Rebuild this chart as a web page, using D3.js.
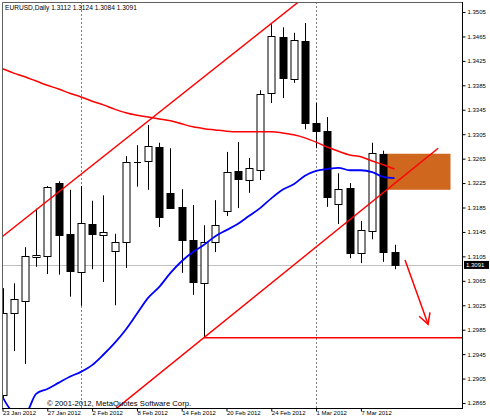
<!DOCTYPE html>
<html><head><meta charset="utf-8">
<script src="https://cdn.jsdelivr.net/npm/d3@7"></script>
<style>
body{margin:0;background:#fff}
svg{display:block}
text{font-family:"Liberation Sans",Arial,sans-serif}
</style>
</head><body>
<svg id="c" width="490" height="420"></svg>
<script>
const symbolTitle = "EURUSD,Daily";
const dates = ["23 Jan 2012","24 Jan 2012","25 Jan 2012","26 Jan 2012","27 Jan 2012","30 Jan 2012","31 Jan 2012",
 "1 Feb 2012","2 Feb 2012","3 Feb 2012","6 Feb 2012","7 Feb 2012","8 Feb 2012","9 Feb 2012","10 Feb 2012",
 "13 Feb 2012","14 Feb 2012","15 Feb 2012","16 Feb 2012","17 Feb 2012","20 Feb 2012","21 Feb 2012","22 Feb 2012",
 "23 Feb 2012","24 Feb 2012","27 Feb 2012","28 Feb 2012","29 Feb 2012","1 Mar 2012","2 Mar 2012","5 Mar 2012",
 "6 Mar 2012","7 Mar 2012","8 Mar 2012","9 Mar 2012","12 Mar 2012"];
const opens  = [1.2878,1.3012,1.3032,1.3104,1.3106,1.3225,1.3142,1.3079,1.3158,1.3140,1.3114,1.3129,1.3260,1.3261,1.3284,1.3209,1.3186,1.3132,1.3061,1.3129,1.3179,1.3245,1.3230,1.3246,1.3372,1.3464,1.3395,1.3458,1.3323,1.3310,1.3191,1.3217,1.3110,1.3146,1.3273,1.3112];
const highs  = [1.3053,1.3061,1.3120,1.3183,1.3220,1.3228,1.3214,1.3220,1.3196,1.3205,1.3142,1.3269,1.3287,1.3320,1.3291,1.3282,1.3215,1.3189,1.3156,1.3197,1.3276,1.3292,1.3266,1.3377,1.3485,1.3480,1.3471,1.3487,1.3356,1.3333,1.3241,1.3225,1.3163,1.3291,1.3278,1.3124];
const lows   = [1.2873,1.2950,1.2929,1.3088,1.3076,1.3075,1.3039,1.3024,1.3084,1.3063,1.3025,1.3086,1.3219,1.3214,1.3153,1.3183,1.3078,1.3042,1.2972,1.3112,1.3171,1.3184,1.3209,1.3230,1.3356,1.3364,1.3389,1.3313,1.3282,1.3186,1.3158,1.3102,1.3094,1.3133,1.3096,1.3084];
const closes = [1.3012,1.3035,1.3106,1.3107,1.3219,1.3140,1.3081,1.3160,1.3142,1.3145,1.3129,1.3259,1.3260,1.3286,1.3169,1.3184,1.3132,1.3063,1.3129,1.3156,1.3243,1.3232,1.3250,1.3371,1.3466,1.3397,1.3459,1.3323,1.3310,1.3202,1.3215,1.3110,1.3148,1.3274,1.3112,1.3091];
const maRed  = [1.3412,1.3405,1.3399,1.3392,1.3385,1.3379,1.3372,1.3366,1.3359,1.3353,1.3346,1.3340,1.3336,1.3333,1.3330,1.3327,1.3322,1.3317,1.3314,1.3312,1.3310,1.3309,1.3309,1.3309,1.3309,1.3307,1.3304,1.3299,1.3292,1.3284,1.3277,1.3271,1.3268,1.3261,1.3255,1.3248];
const maBlue = [1.2875,1.2850,1.2847,1.2880,1.2888,1.2898,1.2908,1.2916,1.2927,1.2944,1.2963,1.2985,1.3011,1.3037,1.3055,1.3078,1.3097,1.3112,1.3124,1.3138,1.3148,1.3158,1.3171,1.3184,1.3200,1.3214,1.3223,1.3237,1.3245,1.3248,1.3250,1.3246,1.3246,1.3243,1.3235,1.3233];
const yTicks = [1.3505,1.3465,1.3425,1.3385,1.3345,1.3305,1.3265,1.3225,1.3185,1.3145,1.3105,1.3065,1.3025,1.2985,1.2945,1.2905,1.2865];
const xTickIdx = [0,4,8,12,16,20,24,28,32];
const separatorIdx = [7,28];
const upperChannel = [[-1,1.3123],[26.4,1.3521]];
const lowerChannel = [[8,1.2824],[38.9,1.3282]];
const supportLine = [[18,1.2972],[45,1.2972]];
const arrowLine = [[35.94,1.3099],[38.0,1.2994]];
const zone = [[34,1.3273],[40,1.3214]];
const lastPrice = 1.3091;
const copyright = "\u00a9 2001-2012, MetaQuotes Software Corp.";

const svg = d3.select("#c");
const L=2, R=462, T=2, B=408;
const x = d3.scaleLinear().domain([0,35]).range([2.5,394.5]);
const y = d3.scaleLinear().domain([1.2865,1.3505]).range([403,12]);

svg.append("defs").append("clipPath").attr("id","pc")
  .append("rect").attr("x",L).attr("y",T).attr("width",R-L).attr("height",B-T);
const g = svg.append("g").attr("clip-path","url(#pc)");

// separators
g.selectAll(".sep").data(separatorIdx).enter().append("line")
  .attr("x1",d=>Math.round(x(d))+0.5).attr("x2",d=>Math.round(x(d))+0.5)
  .attr("y1",T).attr("y2",B).attr("stroke","#808080").attr("stroke-dasharray","2,2");

// last price line
g.append("line").attr("x1",L).attr("x2",R).attr("y1",Math.round(y(lastPrice))+0.5).attr("y2",Math.round(y(lastPrice))+0.5)
  .attr("stroke","#c0c0c0");

// zone rectangle
g.append("rect").attr("x",x(zone[0][0])).attr("y",y(zone[0][1]))
  .attr("width",x(zone[1][0])-x(zone[0][0])).attr("height",y(zone[1][1])-y(zone[0][1]))
  .attr("fill","#d0671f");

// candles
const idx = d3.range(dates.length);
const cg = g.append("g");
idx.forEach(i=>{
  const cx = Math.round(x(i))+0.5;
  cg.append("line").attr("x1",cx).attr("x2",cx).attr("y1",y(highs[i])).attr("y2",y(lows[i])).attr("stroke","#000");
  const top = y(Math.max(opens[i],closes[i])), bot = y(Math.min(opens[i],closes[i]));
  const bull = closes[i] > opens[i];
  if (Math.abs(bot-top) < 1) {
    cg.append("line").attr("x1",cx-3.5).attr("x2",cx+3.5).attr("y1",Math.round(top)+0.5).attr("y2",Math.round(top)+0.5).attr("stroke","#000");
  } else {
    cg.append("rect").attr("x",cx-3.5).attr("y",Math.round(top)+0.5).attr("width",7).attr("height",Math.max(1,Math.round(bot)-Math.round(top)))
      .attr("fill",bull?"#fff":"#000").attr("stroke","#000");
  }
});

// moving averages
const line = d3.line().x((d,i)=>x(i)).y(d=>y(d)).curve(d3.curveMonotoneX);
g.append("path").datum(maRed).attr("d",line).attr("fill","none").attr("stroke","#ff0000").attr("stroke-width",1.5);
g.append("path").datum(maBlue).attr("d",line).attr("fill","none").attr("stroke","#0000ff").attr("stroke-width",1.8);

// trend lines
const seg = d3.line().x(d=>x(d[0])).y(d=>y(d[1]));
[upperChannel, lowerChannel, supportLine, arrowLine].forEach(s=>{
  g.append("path").datum(s).attr("d",seg).attr("fill","none").attr("stroke","#ff0000").attr("stroke-width",1.5);
});
// arrow head
{
  const x1=x(arrowLine[0][0]), y1=y(arrowLine[0][1]), x2=x(arrowLine[1][0]), y2=y(arrowLine[1][1]);
  const a = Math.atan2(y1-y2, x1-x2), len=12, sp=0.5;
  const p1=[x2+len*Math.cos(a-sp), y2+len*Math.sin(a-sp)], p2=[x2+len*Math.cos(a+sp), y2+len*Math.sin(a+sp)];
  g.append("path").attr("d",`M${p1[0]},${p1[1]}L${x2},${y2}L${p2[0]},${p2[1]}`).attr("fill","none").attr("stroke","#ff0000").attr("stroke-width",1.5);
}

// frame
svg.append("path").attr("d",`M${L+0.5},${B+0.5}V${T+0.5}H${R+0.5}`).attr("fill","none").attr("stroke","#606060");
svg.append("line").attr("x1",L).attr("x2",R+1).attr("y1",B+0.5).attr("y2",B+0.5).attr("stroke","#000");
svg.append("line").attr("x1",R+0.5).attr("x2",R+0.5).attr("y1",T).attr("y2",B+1).attr("stroke","#000");

// right axis
const ya = svg.append("g").attr("transform",`translate(${R+0.5},0)`)
  .call(d3.axisRight(y).tickValues(yTicks).tickSize(3).tickPadding(2).tickFormat(d3.format(".4f")));
ya.select(".domain").remove();
ya.selectAll("text").attr("font-size","6px").attr("fill","#000").style("font-family","Liberation Sans, Arial, sans-serif");

// last price label
const ly = y(lastPrice);
svg.append("rect").attr("x",R+2).attr("y",ly-4).attr("width",25).attr("height",8).attr("fill","#000");
svg.append("text").attr("x",R+4).attr("y",ly+2.3).attr("font-size","6px").attr("fill","#fff").text(d3.format(".4f")(lastPrice));

// bottom axis
const xa = svg.append("g").attr("transform",`translate(0,${B+0.5})`)
  .call(d3.axisBottom(x).tickValues(xTickIdx).tickSize(3).tickFormat(i=>dates[i]));
xa.select(".domain").remove();
xa.selectAll("text").attr("font-size","6px").attr("fill","#000").attr("text-anchor","start")
  .attr("x",0).attr("y",2).attr("dy","0.71em").style("font-family","Liberation Sans, Arial, sans-serif");

// title
svg.append("text").attr("x",5).attr("y",9.5).attr("font-size","6.6px").attr("fill","#000")
  .text(`${symbolTitle}  ${d3.format(".4f")(opens[35])} ${d3.format(".4f")(highs[35])} ${d3.format(".4f")(lows[35])} ${d3.format(".4f")(closes[35])}`);
// copyright
svg.append("text").attr("x",47).attr("y",405.5).attr("font-size","7.7px").attr("fill","#000").text(copyright);
</script>
</body></html>
